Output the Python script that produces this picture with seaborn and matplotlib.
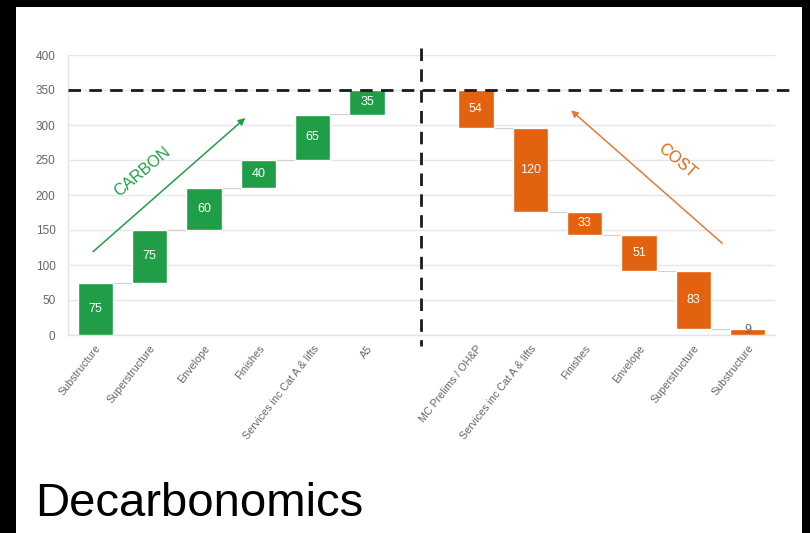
import seaborn as sns
import numpy as np
import pandas as pd
import matplotlib.pyplot as plt
from matplotlib.patches import Rectangle

# waterfall data
carbon_items = ["Substructure", "Superstructure", "Envelope", "Finishes",
                "Services inc Cat A & lifts", "A5"]
carbon_vals = [75, 75, 60, 40, 65, 35]

cost_items = ["MC Prelims / OH&P", "Services inc Cat A & lifts", "Finishes",
              "Envelope", "Superstructure", "Substructure"]
cost_vals = [54, 120, 33, 51, 83, 9]

y_ticks = [0, 50, 100, 150, 200, 250, 300, 350, 400]
target = 350

GREEN = "#1f9e47"
ORANGE = "#e2620f"
GREY = "#666666"

sns.set_style("white")
plt.rcParams["font.family"] = ["Liberation Sans", "DejaVu Sans"]

# slots: 6 carbon bars, one empty gap, 6 cost bars
keys = ["c%d" % i for i in range(6)] + ["gap"] + ["k%d" % i for i in range(6)]
tick_labels = carbon_items + [""] + cost_items

carbon_bottom = np.cumsum([0] + carbon_vals[:-1])
cost_top = target - np.cumsum([0] + cost_vals[:-1])
cost_bottom = cost_top - np.array(cost_vals)

carbon_df = pd.DataFrame({"key": keys[:6], "value": carbon_vals})
cost_df = pd.DataFrame({"key": keys[7:], "value": cost_vals})

fig = plt.figure(figsize=(8.1, 5.33), dpi=100, facecolor="black")
fig.add_artist(Rectangle((16 / 810, 0), 786 / 810, 526 / 533,
                         transform=fig.transFigure, facecolor="white",
                         edgecolor="none", zorder=0))

ax = fig.add_axes([68 / 810, 198 / 533, 707 / 810, 280 / 533])
ax.set_facecolor("white")

sns.barplot(data=carbon_df, x="key", y="value", order=keys, color=GREEN,
            saturation=1, width=0.65, bottom=carbon_bottom, errorbar=None,
            ax=ax, zorder=3)
sns.barplot(data=cost_df, x="key", y="value", order=keys, color=ORANGE,
            saturation=1, width=0.65, bottom=cost_bottom, errorbar=None,
            ax=ax, zorder=3)

# faint connectors between steps
for i in range(5):
    ax.plot([i + 0.325, i + 1 - 0.325], [carbon_bottom[i] + carbon_vals[i]] * 2,
            color="#d0d0d0", lw=0.8, zorder=2)
    ax.plot([7 + i + 0.325, 8 + i - 0.325], [cost_bottom[i]] * 2,
            color="#d0d0d0", lw=0.8, zorder=2)

# value labels
for i, (b, v) in enumerate(zip(carbon_bottom, carbon_vals)):
    ax.text(i, b + v / 2, str(v), color="white", ha="center", va="center",
            fontsize=9, zorder=4)
for i, (b, v) in enumerate(zip(cost_bottom, cost_vals)):
    col = "white" if v > 20 else GREY
    ax.text(7 + i, b + v / 2 + (0 if v > 20 else 2), str(v), color=col,
            ha="center", va="center", fontsize=9, zorder=4)

# dashed reference lines
ax.plot([-0.5, 12.9], [target, target], color="#1a1a1a", lw=2,
        linestyle=(0, (4.5, 3)), clip_on=False, zorder=5)
ax.plot([6, 6], [410, -15], color="#1a1a1a", lw=2,
        linestyle=(0, (4.5, 3)), clip_on=False, zorder=5)

# arrows and labels
ax.annotate("", xy=(2.76, 310), xytext=(-0.04, 119),
            arrowprops=dict(arrowstyle="-|>", color=GREEN, lw=1.1,
                            mutation_scale=10, shrinkA=0, shrinkB=0))
ax.text(0.86, 234, "CARBON", color=GREEN, rotation=40, fontsize=11.5,
        ha="center", va="center")
ax.annotate("", xy=(8.75, 321), xytext=(11.53, 131),
            arrowprops=dict(arrowstyle="-|>", color="#e07b3c", lw=1.1,
                            mutation_scale=10, shrinkA=0, shrinkB=0))
ax.text(10.7, 249, "COST", color=ORANGE, rotation=-40, fontsize=11.5,
        ha="center", va="center")

ax.set_ylim(0, 400)
ax.set_xlim(-0.5, 12.5)
ax.set_yticks(y_ticks)
ax.set_xticks(range(len(keys)))
ax.set_xticklabels(tick_labels, rotation=52, ha="right",
                   rotation_mode="anchor", fontsize=7.7, color=GREY)
ax.tick_params(axis="y", labelsize=8.5, labelcolor=GREY, length=0, pad=9)
ax.tick_params(axis="x", length=0, pad=6)
ax.set_xlabel("")
ax.set_ylabel("")
ax.set_axisbelow(True)
ax.yaxis.grid(True, color="#e6e6e6", lw=1)
for s in ["top", "right"]:
    ax.spines[s].set_visible(False)
for s in ["left", "bottom"]:
    ax.spines[s].set_color("#e3e3e3")
    ax.spines[s].set_linewidth(1)

fig.text(35 / 810, 17 / 533, "Decarbonomics", fontsize=34, color="black",
         ha="left", va="baseline")

plt.savefig("out.png", dpi=100, facecolor="black")
